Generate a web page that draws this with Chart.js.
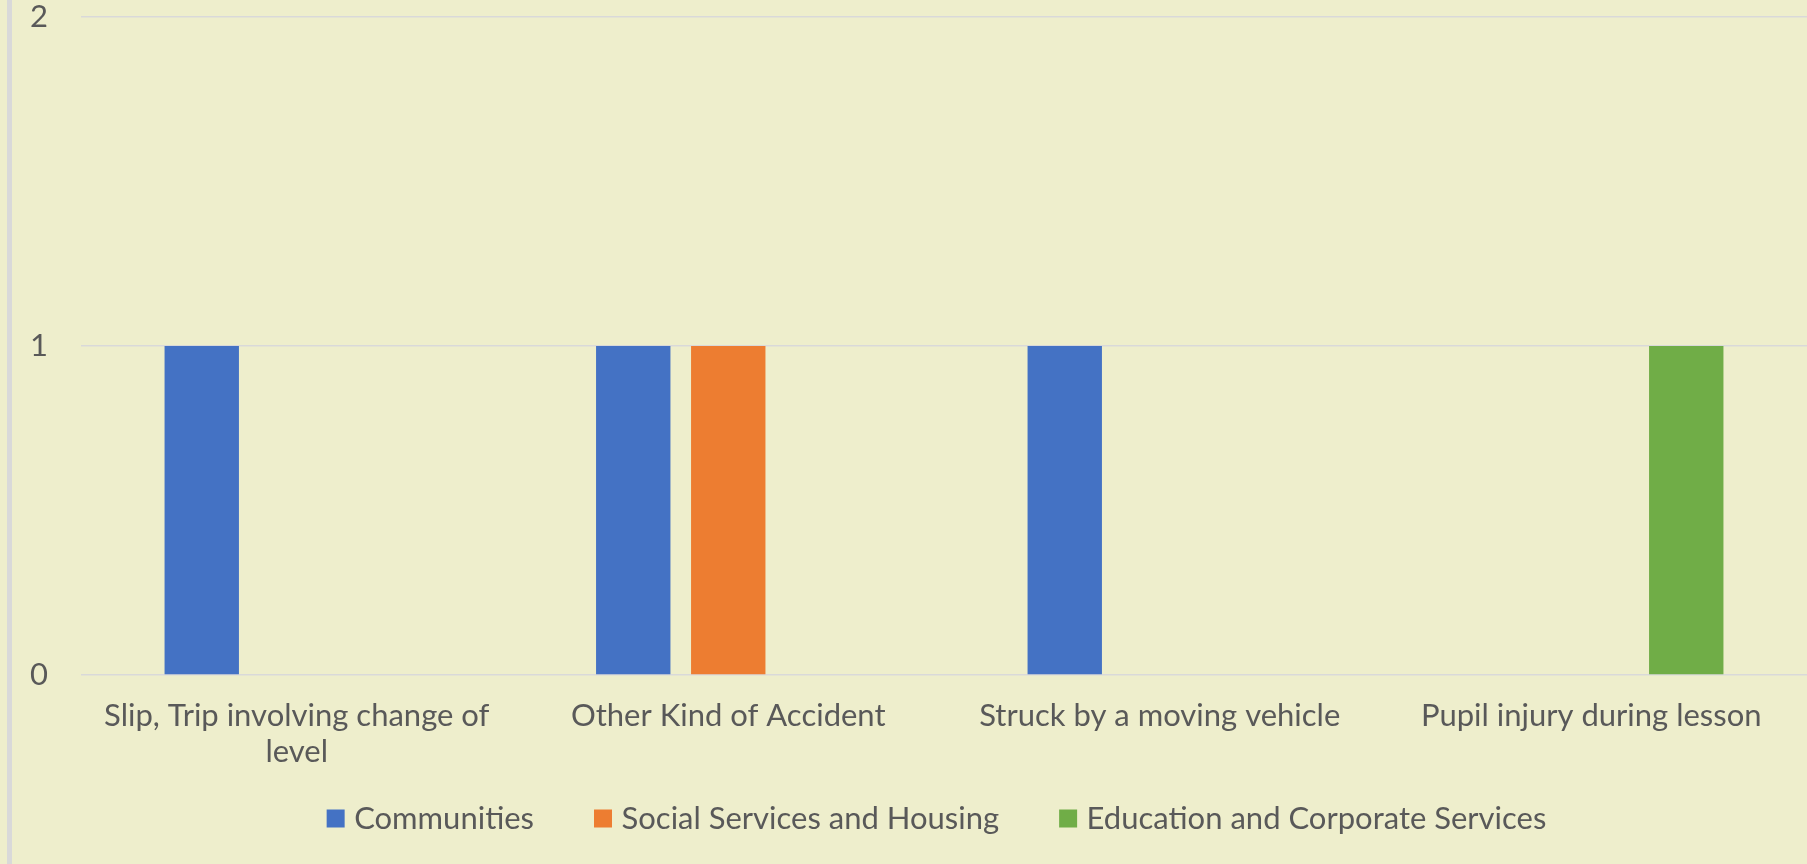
<!DOCTYPE html>
<html>
<head>
<meta charset="utf-8">
<script src="https://cdn.jsdelivr.net/npm/chart.js@4/dist/chart.umd.min.js"></script>
<style>
  html, body { margin: 0; padding: 0; background: #EEEECC; overflow: hidden; }
  #wrap { position: relative; width: 1807px; height: 864px; }
  #edge { position: absolute; left: 7px; top: 0; width: 5px; height: 864px; background: #D9D9D9; }
  canvas { position: absolute; left: 0; top: 0; }
</style>
</head>
<body>
<div id="wrap">
  <div id="edge"></div>
  <canvas id="c" width="1807" height="864"></canvas>
</div>
<script>
const categories = [
  ["Slip, Trip involving change of", "level"],
  "Other Kind of Accident",
  "Struck by a moving vehicle",
  "Pupil injury during lesson"
];
const seriesNames = ["Communities", "Social Services and Housing", "Education and Corporate Services"];
const communities = [1, 1, 1, 0];
const socialServices = [0, 1, 0, 0];
const educationCorporate = [0, 0, 0, 1];
const yTicks = [0, 1, 2];
const seriesColors = ["#4472C4", "#ED7D31", "#70AD47"];

const FONT = "Lato";
const textColor = "#595959";

// shift the legend slightly right, as in the reference
const legendShift = {
  id: 'legendShift',
  afterLayout(chart) {
    const lg = chart.legend;
    if (lg) { lg.left += 36; lg.right += 36; }
  }
};

const ctx = document.getElementById('c').getContext('2d');
new Chart(ctx, {
  type: 'bar',
  data: {
    labels: categories,
    datasets: [
      { label: seriesNames[0], data: communities, backgroundColor: seriesColors[0] },
      { label: seriesNames[1], data: socialServices, backgroundColor: seriesColors[1] },
      { label: seriesNames[2], data: educationCorporate, backgroundColor: seriesColors[2] }
    ]
  },
  plugins: [legendShift],
  options: {
    responsive: false,
    animation: false,
    devicePixelRatio: 1,
    layout: { padding: { top: 17, right: 0, bottom: 20, left: 0 } },
    datasets: { bar: { categoryPercentage: 0.6605, barPercentage: 0.783, borderWidth: 0 } },
    plugins: {
      tooltip: { enabled: false },
      legend: {
        position: 'bottom',
        labels: {
          usePointStyle: true,
          pointStyle: 'rect',
          boxWidth: 6,
          boxHeight: 18,
          padding: 66,
          color: textColor,
          font: { family: FONT, size: 31 }
        }
      }
    },
    scales: {
      x: {
        grid: { display: false, drawTicks: false },
        border: { display: false },
        ticks: {
          color: textColor,
          padding: 23,
          maxRotation: 0,
          autoSkip: false,
          font: { family: FONT, size: 31, lineHeight: 1.16 }
        },
        afterFit: (s) => {
          s.height = 62;
          s._computeLabelArea = () => undefined; // allow second label line below the axis box
        }
      },
      y: {
        min: yTicks[0],
        max: yTicks[yTicks.length - 1],
        grid: { color: '#D9D9D9', lineWidth: 1.5, drawTicks: false },
        border: { display: false },
        afterBuildTicks: (s) => { s.ticks = yTicks.map(v => ({ value: v })); },
        ticks: {
          color: textColor,
          padding: 33,
          font: { family: FONT, size: 31 }
        },
        afterFit: (s) => { s.width = 81; s.paddingTop = 0; s.paddingBottom = 0; }
      }
    }
  }
});
</script>
</body>
</html>
